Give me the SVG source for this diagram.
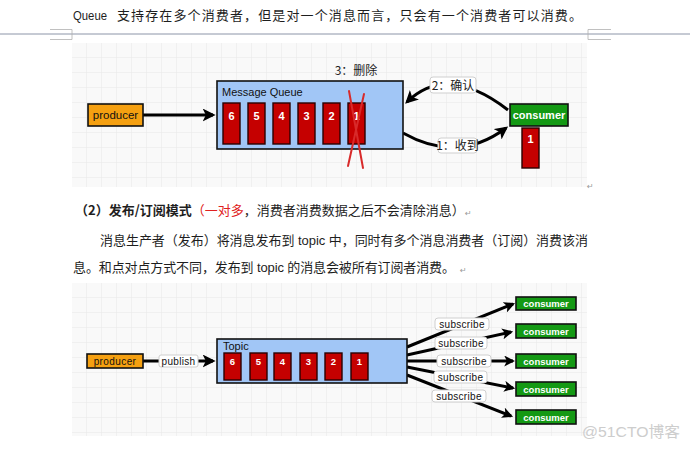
<svg xmlns="http://www.w3.org/2000/svg" width="690" height="449" viewBox="0 0 690 449">
<style>
.t{font-family:"Liberation Sans","Noto Sans CJK SC",sans-serif;font-size:13px;fill:#1e1e1e}
.cj{font-family:"Noto Sans CJK SC",sans-serif;font-size:13px;fill:#1e1e1e}
.ret{font-family:"DejaVu Sans",sans-serif;font-size:8px;fill:#999}
.box{stroke:#111;stroke-width:1.6}
.prod{fill:#f5a011}
.queue{fill:#a1c6f6}
.msg{fill:#c50000;stroke:#2a0000;stroke-width:1.4}
.cons{fill:#149914}
.num{font-family:"Liberation Sans",sans-serif;font-weight:bold;fill:#fff;text-anchor:middle}
.lbl{font-family:"Liberation Sans",sans-serif;fill:#111}
.wl{font-family:"Liberation Sans",sans-serif;fill:#fff;font-weight:bold;text-anchor:middle}
.conn{fill:none;stroke:#000;stroke-width:3}
.tag{fill:#fff;stroke:#cfcfcf;stroke-width:1}
.tagt{font-family:"Liberation Sans",sans-serif;font-size:10px;fill:#111;text-anchor:middle;letter-spacing:0.3px}
.cjt{font-family:"Noto Sans CJK SC",sans-serif;font-size:12px;fill:#222;text-anchor:middle}
</style>
<defs>
<pattern id="grid" width="15" height="15" patternUnits="userSpaceOnUse" x="72" y="43">
<rect width="15" height="15" fill="#f9f9f9"/>
<path d="M15 0V15H0" fill="none" stroke="#e8e8e8" stroke-width="1"/>
</pattern>
<marker id="ah" viewBox="0 0 10 10" refX="8" refY="5" markerWidth="13" markerHeight="13" markerUnits="userSpaceOnUse" orient="auto">
<path d="M0,0 L10,5 L0,10 L2.5,5 z" fill="#000"/>
</marker>
<marker id="ahs" viewBox="0 0 10 10" refX="8" refY="5" markerWidth="11" markerHeight="11" markerUnits="userSpaceOnUse" orient="auto">
<path d="M0,0 L10,5 L0,10 L2.5,5 z" fill="#000"/>
</marker>
</defs>
<rect width="690" height="449" fill="#fff"/>

<!-- page text -->
<g id="header">
<text class="t" x="73" y="20" textLength="34" lengthAdjust="spacingAndGlyphs">Queue</text>
<text class="cj" x="117" y="20" textLength="465" lengthAdjust="spacing">支持存在多个消费者，但是对一个消息而言，只会有一个消费者可以消费。</text>
<line x1="0" y1="34" x2="690" y2="34" stroke="#8c95a8" stroke-width="1"/>
<path d="M50 29.5H72V39.5H50" fill="none" stroke="#b0b0b0" stroke-width="0.8"/>
<path d="M611 29.5H588V39.5H611" fill="none" stroke="#b0b0b0" stroke-width="0.8"/>
</g>

<!-- diagram 1 -->
<rect x="72" y="43" width="515" height="144" fill="url(#grid)"/>
<g id="connectors1">
<line class="conn" x1="143" y1="115" x2="213" y2="115" marker-end="url(#ah)"/>
<path class="conn" d="M508 110 Q447 63 407 102" marker-end="url(#ah)"/>
<path class="conn" d="M403 133 Q458 164 506 128" marker-end="url(#ah)"/>
<rect class="tag" x="430" y="77" width="46" height="16" rx="3"/>
<text class="cjt" x="453" y="90">2：确认</text>
<rect class="tag" x="438" y="138" width="39" height="15" rx="3"/>
<text class="cjt" x="457.5" y="150">1：收到</text>
<text class="cjt" x="356" y="75">3：删除</text>
</g>
<g id="producer1">
<rect class="box prod" x="88" y="104" width="55" height="22"/>
<text class="lbl" x="115.5" y="119" font-size="11.5" text-anchor="middle">producer</text>
</g>
<g id="queue">
<rect class="box queue" x="217" y="81" width="186" height="68"/>
<text class="lbl" x="222" y="96" font-size="11">Message Queue</text>
<rect class="msg" x="223" y="103" width="17" height="41"/>
<text class="num" x="231.5" y="120" font-size="11">6</text>
<rect class="msg" x="248" y="103" width="17" height="41"/>
<text class="num" x="256.5" y="120" font-size="11">5</text>
<rect class="msg" x="273" y="103" width="17" height="41"/>
<text class="num" x="281.5" y="120" font-size="11">4</text>
<rect class="msg" x="298" y="103" width="17" height="41"/>
<text class="num" x="306.5" y="120" font-size="11">3</text>
<rect class="msg" x="323" y="103" width="17" height="41"/>
<text class="num" x="331.5" y="120" font-size="11">2</text>
<rect class="msg" x="348" y="103" width="17" height="41"/>
<text class="num" x="356.5" y="120" font-size="11">1</text>
<path d="M349 91 L363 168 M364 94 L348 166" stroke="#d82a2a" stroke-width="2" fill="none" stroke-linecap="round"/>
</g>
<g id="consumer1">
<rect class="box cons" x="510" y="104" width="58" height="22"/>
<text class="wl" x="539" y="119" font-size="11">consumer</text>
<rect class="msg" x="522" y="128" width="17" height="40"/>
<text class="num" x="530.5" y="143" font-size="11">1</text>
</g>
<text class="ret" x="587" y="189">↵</text>

<!-- section text -->
<g id="section">
<text class="cj" y="215"><tspan x="75" font-weight="bold">（2）发布/订阅模式</tspan><tspan fill="#e02020">（一对多</tspan><tspan>，消费者消费数据之后不会清除消息）</tspan></text>
<text class="ret" x="465" y="216">↵</text>
<text class="cj" x="100" y="245" textLength="488" lengthAdjust="spacing">消息生产者（发布）将消息发布到<tspan font-family="Liberation Sans"> topic </tspan>中，同时有多个消息消费者（订阅）消费该消</text>
<text class="cj" x="73" y="272" textLength="382" lengthAdjust="spacing">息。和点对点方式不同，发布到<tspan font-family="Liberation Sans"> topic </tspan>的消息会被所有订阅者消费。</text>
<text class="ret" x="460" y="273">↵</text>
</g>

<!-- diagram 2 -->
<rect x="72" y="283" width="515" height="153" fill="url(#grid)"/>
<g id="connectors2">
<line class="conn" x1="143" y1="361" x2="213" y2="361" marker-end="url(#ah)"/>
<rect class="tag" x="159" y="355" width="39" height="12" rx="2"/>
<text class="tagt" x="178.5" y="364.5">publish</text>
<line class="conn" x1="407" y1="347" x2="513" y2="304" stroke-width="2.6" marker-end="url(#ahs)"/>
<line class="conn" x1="407" y1="355" x2="511" y2="332" stroke-width="2.6" marker-end="url(#ahs)"/>
<line class="conn" x1="407" y1="361" x2="513" y2="361" stroke-width="2.6" marker-end="url(#ahs)"/>
<line class="conn" x1="407" y1="367" x2="513" y2="388" stroke-width="2.6" marker-end="url(#ahs)"/>
<line class="conn" x1="407" y1="375" x2="511" y2="416" stroke-width="2.6" marker-end="url(#ahs)"/>
<rect class="tag" x="435" y="318" width="54" height="12" rx="3"/>
<text class="tagt" x="462" y="327.5">subscribe</text>
<rect class="tag" x="435" y="337" width="52" height="12" rx="3"/>
<text class="tagt" x="461" y="346.5">subscribe</text>
<rect class="tag" x="437" y="355" width="54" height="12" rx="3"/>
<text class="tagt" x="464" y="364.5">subscribe</text>
<rect class="tag" x="434" y="371" width="53" height="12" rx="3"/>
<text class="tagt" x="460.5" y="380.5">subscribe</text>
<rect class="tag" x="432" y="390" width="54" height="12" rx="3"/>
<text class="tagt" x="459" y="399.5">subscribe</text>
</g>
<g id="producer2">
<rect class="box prod" x="87" y="354" width="56" height="14"/>
<text class="lbl" x="115" y="365" font-size="10" text-anchor="middle" letter-spacing="0.4">producer</text>
</g>
<g id="topic">
<rect class="box queue" x="217" y="339" width="190" height="44"/>
<text class="lbl" x="223" y="350" font-size="11">Topic</text>
<rect class="msg" x="224" y="353" width="17" height="27"/>
<text class="num" x="232.5" y="364.5" font-size="9.5">6</text>
<rect class="msg" x="250" y="353" width="17" height="27"/>
<text class="num" x="258.5" y="364.5" font-size="9.5">5</text>
<rect class="msg" x="274" y="353" width="17" height="27"/>
<text class="num" x="282.5" y="364.5" font-size="9.5">4</text>
<rect class="msg" x="300" y="353" width="17" height="27"/>
<text class="num" x="308.5" y="364.5" font-size="9.5">3</text>
<rect class="msg" x="325" y="353" width="17" height="27"/>
<text class="num" x="333.5" y="364.5" font-size="9.5">2</text>
<rect class="msg" x="351" y="353" width="17" height="27"/>
<text class="num" x="359.5" y="364.5" font-size="9.5">1</text>
</g>
<g id="consumer2a"><rect class="box cons" x="516" y="297" width="60" height="13"/><text class="wl" x="546" y="307" font-size="9.5">consumer</text></g>
<g id="consumer2b"><rect class="box cons" x="516" y="324" width="60" height="14"/><text class="wl" x="546" y="334.5" font-size="9.5">consumer</text></g>
<g id="consumer2c"><rect class="box cons" x="516" y="354" width="60" height="14"/><text class="wl" x="546" y="364.5" font-size="9.5">consumer</text></g>
<g id="consumer2d"><rect class="box cons" x="516" y="382" width="60" height="14"/><text class="wl" x="546" y="392.5" font-size="9.5">consumer</text></g>
<g id="consumer2e"><rect class="box cons" x="516" y="410" width="60" height="14"/><text class="wl" x="546" y="420.5" font-size="9.5">consumer</text></g>

<text x="582" y="437" font-family="Liberation Sans,Noto Sans CJK SC,sans-serif" font-size="15" fill="#cdcdcd" textLength="98" lengthAdjust="spacingAndGlyphs">@51CTO博客</text>
</svg>
